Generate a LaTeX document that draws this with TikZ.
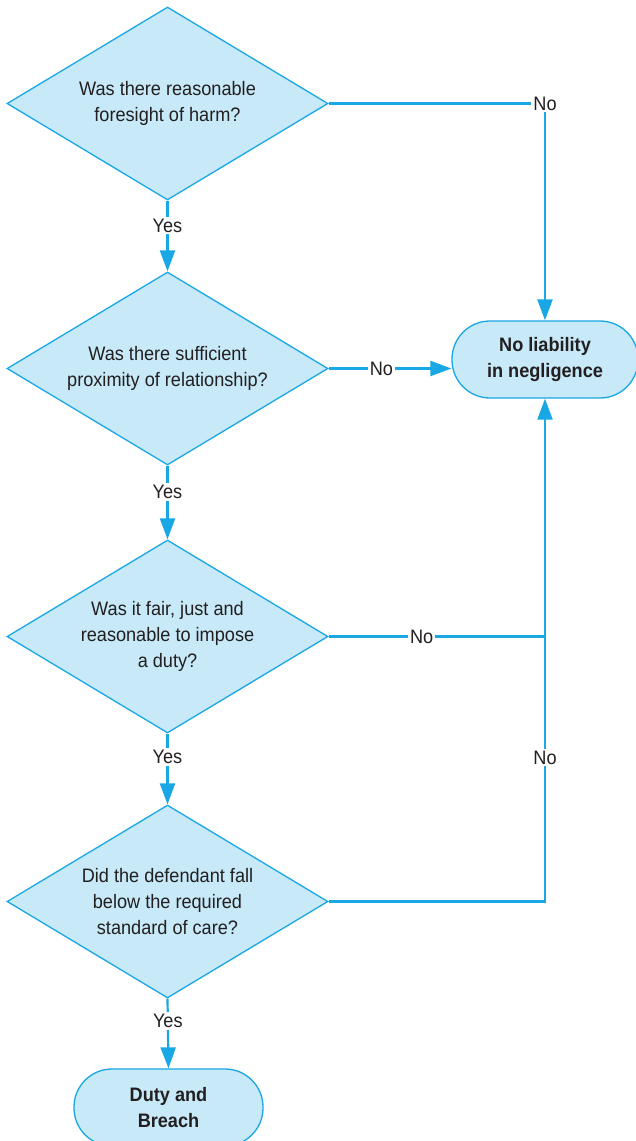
\documentclass[tikz,border=0pt]{standalone}
\usepackage{fontspec}
\setmainfont{Liberation Sans}[FakeStretch=0.93]
\usetikzlibrary{shapes.geometric, arrows.meta}
\definecolor{flowline}{HTML}{1AA7E6}
\definecolor{flowfill}{HTML}{C7E9F8}
\definecolor{flowtext}{HTML}{231F20}
\tikzset{
  question/.style={diamond, draw=flowline, fill=flowfill, line width=1.3pt,
    minimum width=321pt, minimum height=193pt, inner sep=0pt, aspect=1.66,
    align=center, text=flowtext,
    font=\fontsize{19.5}{26}\selectfont},
  outcome/.style={rectangle, rounded corners=38pt, draw=flowline, fill=flowfill,
    line width=1.3pt, minimum height=77pt, align=center, text=flowtext,
    font=\fontsize{19.5}{26}\selectfont\bfseries},
  conn/.style={draw=flowline, line width=2.2pt},
  lbl/.style={fill=white, inner sep=2pt, text=flowtext,
    font=\fontsize{19.5}{26}\selectfont}
}
\begin{document}
\begin{tikzpicture}[x=1pt, y=-1pt, >={Triangle[length=21pt,width=15pt]}]
\useasboundingbox (0,0) rectangle (635,1141);
\fill[white] (0,0) rectangle (635,1141);
\node[question] (q1) at (167.5,103.5) {Was there reasonable\\foresight of harm?};
\node[question] (q2) at (167.5,368.5) {Was there sufficient\\proximity of relationship?};
\node[question] (q3) at (167.5,636.5) {Was it fair, just and\\reasonable to impose\\a duty?};
\node[question] (q4) at (167.5,901.5) {Did the defendant fall\\below the required\\standard of care?};
\node[outcome, minimum width=186pt] (t1) at (545,359.5) {No liability\\in negligence};
\node[outcome, minimum width=189pt] (t2) at (168.5,1107.5) {Duty and\\Breach};
\draw[conn, ->] (q1.south) -- node[lbl, pos=0.35] {Yes} (q2.north);
\draw[conn, ->] (q2.south) -- node[lbl, pos=0.36] {Yes} (q3.north);
\draw[conn, ->] (q3.south) -- node[lbl, pos=0.33] {Yes} (q4.north);
\draw[conn, ->] (q4.south) -- node[lbl, pos=0.32] {Yes} (t2.north);
\draw[conn, ->] (q1.east) -| node[lbl, pos=0.5] {No} (t1.north);
\draw[conn, ->] (q2.east) -- node[lbl, pos=0.43] {No} (q2.east -| t1.west);
\draw[conn] (q3.east) -- node[lbl, pos=0.43] {No} (q3.east -| t1.south);
\draw[conn, ->] (q4.east) -| node[lbl, pos=0.643] {No} (t1.south);
\end{tikzpicture}
\end{document}
